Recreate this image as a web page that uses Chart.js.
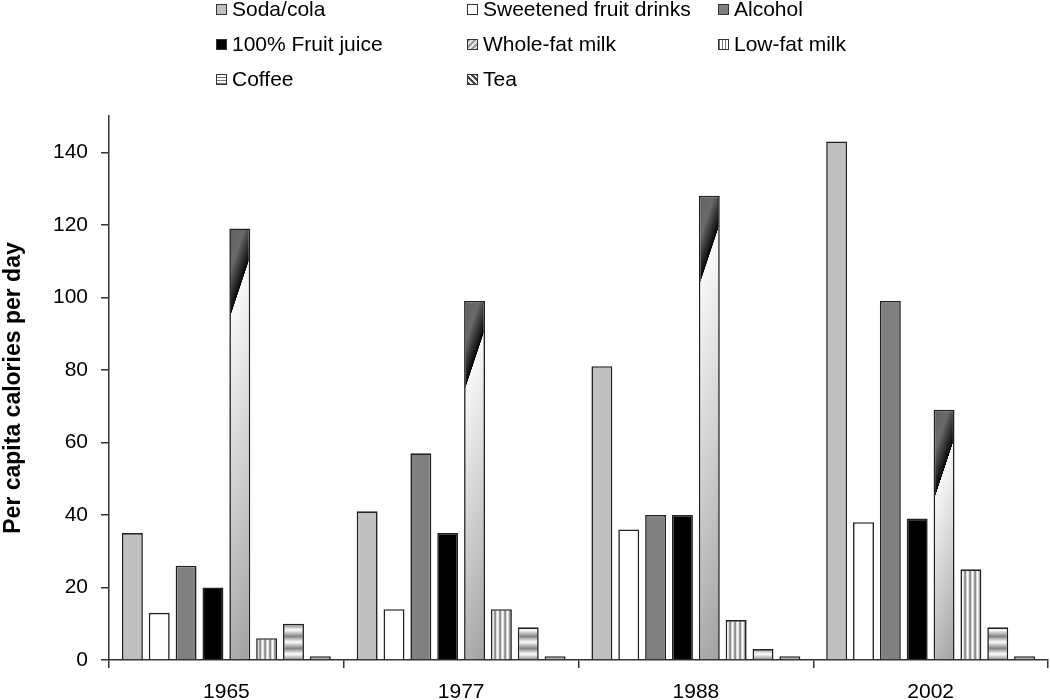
<!DOCTYPE html>
<html>
<head>
<meta charset="utf-8">
<script src="https://cdn.jsdelivr.net/npm/chart.js"></script>
<style>
body { margin: 0; background: #fff; }
#wrap { position: relative; width: 1050px; height: 700px; font-family: "Liberation Sans", Arial, sans-serif; }
#legend { position: absolute; left: 0; top: 0; }
.item { position: absolute; display: flex; align-items: center; height: 24px; line-height: 24px; font-size: 21px; color: #000; white-space: nowrap; }
.box { width: 9px; height: 9px; border: 1px solid #333; margin-right: 5px; }
</style>
</head>
<body>
<div id="wrap">
  <canvas id="chart" width="1050" height="700"></canvas>
  <div id="legend"></div>
</div>
<script>
const years = ['1965', '1977', '1988', '2002'];
const seriesNames = ['Soda/cola', 'Sweetened fruit drinks', 'Alcohol', '100% Fruit juice', 'Whole-fat milk', 'Low-fat milk', 'Coffee', 'Tea'];
const sodaCola = [35, 41, 81, 143];
const sweetenedDrinks = [13, 14, 36, 38];
const alcohol = [26, 57, 40, 99];
const fruitJuice = [20, 35, 40, 39];
const wholeFatMilk = [119, 99, 128, 69];
const lowFatMilk = [6, 14, 11, 25];
const coffee = [10, 9, 3, 9];
const tea = [1, 1, 1, 1];
const yMax = 150;
const yStep = 20;

const catPct = 0.915;
const barPct = 0.78;

const canvas = document.getElementById('chart');
const c2d = canvas.getContext('2d');

// vertical stripes for low-fat milk
function stripesV() {
    const p = document.createElement('canvas');
    p.width = 5; p.height = 1;
    const g = p.getContext('2d');
    const cols = ['#8c8c8c', '#d8d8d8', '#ffffff', '#e0e0e0', '#a0a0a0'];
    cols.forEach((col, i) => { g.fillStyle = col; g.fillRect(i, 0, 1, 1); });
    return c2d.createPattern(p, 'repeat');
}

// horizontal bands for coffee
function stripesH() {
    const p = document.createElement('canvas');
    p.width = 1; p.height = 12;
    const g = p.getContext('2d');
    const grad = g.createLinearGradient(0, 0, 0, 12);
    grad.addColorStop(0, '#7a7a7a');
    grad.addColorStop(0.5, '#ffffff');
    grad.addColorStop(1, '#8a8a8a');
    g.fillStyle = grad;
    g.fillRect(0, 0, 1, 12);
    return c2d.createPattern(p, 'repeat');
}

// diagonal shaded fill for whole-fat milk, worked out from the scales
function milkFill(ctx) {
    const chart = ctx.chart;
    const xs = chart.scales.x, ys = chart.scales.y;
    if (ctx.type !== 'data' || !xs || !ys) return '#cccccc';
    const top = ys.getPixelForValue(ctx.raw);
    const base = ys.getPixelForValue(0);
    const cat = xs.width / years.length;
    const slot = cat * catPct / seriesNames.length;
    const w = slot * barPct;
    const cx = xs.getPixelForValue(ctx.dataIndex) + (ctx.datasetIndex - (seriesNames.length - 1) / 2) * slot;
    const left = cx - w / 2;
    const dx = 60 / 63.2, dy = 20 / 63.2;
    const len = w * dx + (base - top) * dy;
    if (!isFinite(len) || len <= 0) return '#cccccc';
    const d = Math.min(0.95, (w / 2 * dx + 60 * dy) / len);
    const g = chart.ctx.createLinearGradient(left, top, left + dx * len, top + dy * len);
    g.addColorStop(0, '#5e5e5e');
    g.addColorStop(d * 0.5, '#6a6a6a');
    g.addColorStop(Math.max(0, d - 0.003), '#050505');
    g.addColorStop(d, '#f8f8f8');
    g.addColorStop(1, '#a0a0a0');
    return g;
}

const fills = ['#c0c0c0', '#ffffff', '#808080', '#000000', milkFill, stripesV(), stripesH(), '#b4b4b4'];
const values = [sodaCola, sweetenedDrinks, alcohol, fruitJuice, wholeFatMilk, lowFatMilk, coffee, tea];

const legendCss = [
    '#c0c0c0',
    '#ffffff',
    '#808080',
    '#000000',
    'repeating-linear-gradient(135deg, #9a9a9a 0 2px, #e8e8e8 2px 4px)',
    'repeating-linear-gradient(90deg, #777 0 1px, #fff 1px 3px)',
    'repeating-linear-gradient(0deg, #777 0 1px, #fff 1px 3px)',
    'repeating-linear-gradient(45deg, #444 0 2px, #eee 2px 4px)'
];

const legend = document.getElementById('legend');
const colX = [216, 467, 718];
const rowY = [-3, 32, 67];
seriesNames.forEach((name, i) => {
    const item = document.createElement('div');
    item.className = 'item';
    item.style.left = colX[i % 3] + 'px';
    item.style.top = rowY[Math.floor(i / 3)] + 'px';
    const box = document.createElement('span');
    box.className = 'box';
    box.style.background = legendCss[i];
    const txt = document.createElement('span');
    txt.textContent = name;
    item.appendChild(box);
    item.appendChild(txt);
    legend.appendChild(item);
});

const datasets = seriesNames.map((name, i) => ({
    label: name,
    data: values[i],
    backgroundColor: fills[i],
    borderColor: '#222',
    borderWidth: 1.6,
    categoryPercentage: catPct,
    barPercentage: barPct
}));

new Chart(canvas, {
    type: 'bar',
    data: { labels: years, datasets: datasets },
    options: {
        responsive: false,
        animation: false,
        layout: { padding: { top: 116, right: 2, left: 0, bottom: 0 } },
        plugins: { legend: { display: false }, tooltip: { enabled: false } },
        scales: {
            x: {
                afterFit: s => { s.height = 40; },
                grid: { display: true, offset: true, drawOnChartArea: false, tickLength: 8, color: '#333', lineWidth: 1.5 },
                border: { display: true, color: '#333', width: 1.5 },
                ticks: { color: '#000', padding: 12, font: { family: 'Liberation Sans', size: 21 } }
            },
            y: {
                min: 0,
                max: yMax,
                afterFit: s => { s.width = 109; },
                afterBuildTicks: s => { s.ticks = s.ticks.filter(t => t.value % yStep === 0); },
                grid: { display: true, drawOnChartArea: false, tickLength: 8, color: '#333', lineWidth: 1.5 },
                border: { display: true, color: '#333', width: 1.5 },
                ticks: { stepSize: yStep, color: '#000', padding: 13, font: { family: 'Liberation Sans', size: 21 } },
                title: {
                    display: true,
                    text: 'Per capita calories per day',
                    color: '#000',
                    padding: { top: 0, bottom: 0 },
                    font: { family: 'Liberation Sans', size: 23, weight: 'bold' }
                }
            }
        }
    }
});
</script>
</body>
</html>
